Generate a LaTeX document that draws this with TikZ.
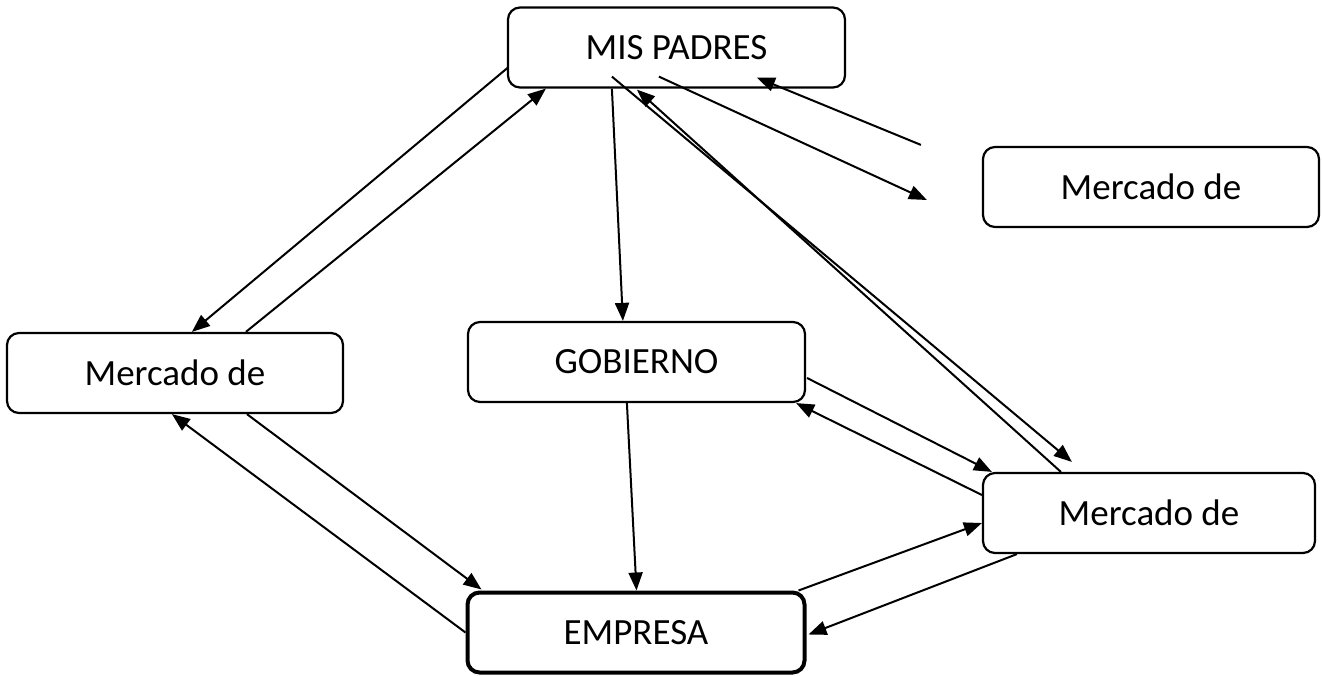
\documentclass[tikz,border=0pt]{standalone}
\usepackage{fontspec}
\setmainfont{Carlito}
\usetikzlibrary{arrows.meta,calc}
\begin{document}
\begin{tikzpicture}[x=1pt,y=-1pt,
  box/.style={draw,line width=2.2pt,rounded corners=12pt,minimum width=#1,minimum height=80pt,inner sep=0pt,font=\fontsize{37}{40}\selectfont},
  box/.default=337pt,
  conn/.style={line width=2pt,-{Triangle[length=18pt,width=14pt]}}]
\useasboundingbox (0,0) rectangle (1322,675);
\node[box] (mp) at (676.5,47.5) {MIS PADRES};
\node[box=336pt] (mrt) at (1151,187) {Mercado de};
\node[box=336pt] (ml) at (175,373) {Mercado de};
\node[box] (gob) at (636.5,362) {GOBIERNO};
\node[box=332pt] (mrb) at (1149,513) {Mercado de};
\node[box=337pt,line width=4pt] (emp) at (636,632.5) {EMPRESA};
\coordinate (free1) at ($(mrt.west)+(-55,13)$);
\coordinate (free2) at ($(mrb.north west)+(90,-10)$);
\coordinate (free3) at ($(mrt.north west)+(-61,-1)$);
% arrows
\draw[conn] ($(mp.south west)+(1,-21)$) -- ($(ml.north west)+(186,0)$);
\draw[conn] ($(ml.north west)+(240,0)$) -- ($(mp.south west)+(39,0)$);
\draw[conn] ($(mp.south west)+(105,0)$) -- ($(gob.north west)+(156,0)$);
\draw[conn] ($(gob.south west)+(160,0)$) -- ($(emp.north west)+(171,0)$);
\draw[conn] ($(ml.south west)+(241,0)$) -- ($(emp.north west)+(16,-1)$);
\draw[conn] (emp.west) -- ($(ml.south west)+(166,0)$);
\draw[conn] ($(emp.north east)+(-8,0)$) -- ($(mrb.west)+(0,10)$);
\draw[conn] ($(mrb.south west)+(35,0)$) -- ($(emp.east)+(2,2)$);
\draw[conn] ($(gob.east)+(1,16)$) -- ($(mrb.north west)+(10,0)$);
\draw[conn] ($(mrb.west)+(0,-18)$) -- ($(gob.south east)+(-10,0)$);
\draw[conn] ($(mp.south west)+(105,-12)$) -- (free2);
\draw[conn] ($(mrb.north west)+(79,0)$) -- ($(mp.south west)+(130,1)$);
\draw[conn] ($(mp.south west)+(152,-12)$) -- (free1);
\draw[conn] (free3) -- ($(mp.south west)+(250,-11)$);
\end{tikzpicture}
\end{document}
